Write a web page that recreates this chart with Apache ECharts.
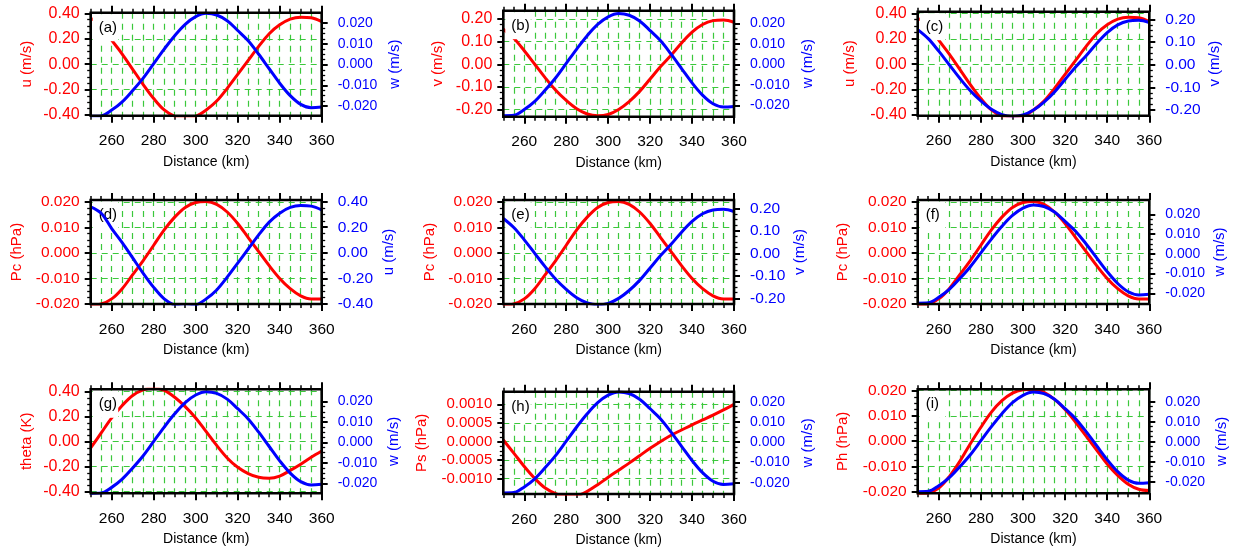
<!DOCTYPE html>
<html><head><meta charset="utf-8">
<script src="https://cdn.jsdelivr.net/npm/echarts@6/dist/echarts.min.js"></script>
<style>html,body{margin:0;padding:0;background:#fff}#c{width:1235px;height:550px}</style>
</head><body><div id="c"></div>
<script>
// ---------------- data ----------------
const distance = [250,255,260,265,270,275,280,285,290,295,300,305,310,315,320,325,330,335,340,345,350,355,360];
const u     = [0.36,0.31,0.19,0.08,-0.04,-0.16,-0.27,-0.36,-0.41,-0.425,-0.41,-0.36,-0.29,-0.19,-0.08,0.03,0.14,0.24,0.31,0.355,0.37,0.365,0.335];
const v     = [0.155,0.115,0.06,0.00,-0.06,-0.115,-0.16,-0.197,-0.22,-0.228,-0.222,-0.20,-0.165,-0.12,-0.065,-0.01,0.04,0.094,0.142,0.176,0.193,0.196,0.186];
const w     = [-0.0250,-0.0248,-0.0220,-0.0180,-0.0125,-0.0065,0.0005,0.0075,0.0140,0.0195,0.0232,0.0248,0.0240,0.0212,0.0165,0.0115,0.0050,-0.0020,-0.0090,-0.0150,-0.0192,-0.0208,-0.0205];
const pc    = [-0.0205,-0.0200,-0.0180,-0.0140,-0.0085,-0.0030,0.0030,0.0090,0.0140,0.0178,0.0197,0.0201,0.0190,0.0160,0.0115,0.0060,0.0005,-0.0050,-0.0100,-0.0140,-0.0168,-0.0180,-0.0180];
const theta = [-0.05,0.07,0.19,0.29,0.37,0.415,0.43,0.41,0.355,0.28,0.19,0.08,-0.03,-0.13,-0.205,-0.255,-0.285,-0.292,-0.275,-0.23,-0.18,-0.125,-0.075];
const ps    = [0.00004,-0.00031,-0.00067,-0.00099,-0.00125,-0.00140,-0.00148,-0.00146,-0.00134,-0.00116,-0.00096,-0.00077,-0.00058,-0.00038,-0.00018,0.00000,0.00017,0.00031,0.00045,0.00058,0.00071,0.00085,0.00100];
const ph    = [-0.0210,-0.0205,-0.0185,-0.0140,-0.0080,-0.0010,0.0055,0.0115,0.0160,0.0190,0.0203,0.0205,0.0193,0.0165,0.0125,0.0075,0.0020,-0.0035,-0.0090,-0.0135,-0.0170,-0.0190,-0.0195];

// tick labels
const xTicks     = [260,280,300,320,340,360];
const uTicks     = [-0.40,-0.20,0.00,0.20,0.40];
const vTicks     = [-0.20,-0.10,0.00,0.10,0.20];
const wTicks     = [-0.020,-0.010,0.000,0.010,0.020];
const pcTicks    = [-0.020,-0.010,0.000,0.010,0.020];
const thetaTicks = [-0.40,-0.20,0.00,0.20,0.40];
const psTicks    = [-0.0010,-0.0005,0.0000,0.0005,0.0010];
const phTicks    = [-0.020,-0.010,0.000,0.010,0.020];

const FONT = '"Liberation Sans", Arial, Helvetica, sans-serif';

const vars = {
  u:     {data:u,     ticks:uTicks,     dec:2, name:'u (m/s)',   fsL:16,   fsR:15.5},
  v:     {data:v,     ticks:vTicks,     dec:2, name:'v (m/s)',   fsL:16,   fsR:15.5},
  w:     {data:w,     ticks:wTicks,     dec:3, name:'w (m/s)',   fsL:15,   fsR:14},
  pc:    {data:pc,    ticks:pcTicks,    dec:3, name:'Pc (hPa)',  fsL:15.5, fsR:14},
  theta: {data:theta, ticks:thetaTicks, dec:2, name:'theta (K)', fsL:16,   fsR:15.5},
  ps:    {data:ps,    ticks:psTicks,    dec:4, name:'Ps (hPa)',  fsL:15,   fsR:13},
  ph:    {data:ph,    ticks:phTicks,    dec:3, name:'Ph (hPa)',  fsL:15.5, fsR:14}
};

// panels: tag, left var, right var, axis ranges
const panels = [
  {tag:'(a)', left:'u',     right:'w', lr:[-0.405,0.405],     rr:[-0.0247,0.0251]},
  {tag:'(b)', left:'v',     right:'w', lr:[-0.232,0.237],     rr:[-0.0255,0.0262]},
  {tag:'(c)', left:'u',     right:'v', lr:[-0.405,0.413],     rr:[-0.225,0.234]},
  {tag:'(d)', left:'pc',    right:'u', lr:[-0.0200,0.0207],   rr:[-0.400,0.413]},
  {tag:'(e)', left:'pc',    right:'v', lr:[-0.0200,0.0207],   rr:[-0.225,0.237]},
  {tag:'(f)', left:'pc',    right:'w', lr:[-0.0200,0.0207],   rr:[-0.0254,0.0273]},
  {tag:'(g)', left:'theta', right:'w', lr:[-0.413,0.419],     rr:[-0.0249,0.0260]},
  {tag:'(h)', left:'ps',    right:'w', lr:[-0.00141,0.00134], rr:[-0.0255,0.0249]},
  {tag:'(i)', left:'ph',    right:'w', lr:[-0.0206,0.0205],   rr:[-0.0258,0.0262]}
];

// ---------------- layout ----------------
const X_MIN = 250, X_MAX = 360;
const boxes = [
  [90.7,12.7,321.7,115.7],[503.3,10.7,734,116.7],[917.7,11.7,1149.3,115.7],
  [90.7,200,321.7,304],[503.3,200,734,304],[917.7,200,1149.3,304],
  [90.7,389.3,321.7,493.3],[503.3,391.7,734,494],[917.7,389.3,1149.3,493.3]
];
const leftNameOff  = [64,65,67.7,74,73,74.4,64,81.6,74.4];
const rightNameOff = [73,74,65.7,66.7,66,70.7,71.7,74,72.4];

const RED = '#ff0000', BLUE = '#0000ff', GREEN = '#3cc83c';
const NAME_FS = 15;

const fmt = dec => val => { if (Math.abs(val) < 1e-12) val = 0; return val.toFixed(dec); };

const grid = [], xAxis = [], yAxis = [], series = [], graphic = [];
const noLine = {show:false, onZero:false};

panels.forEach((P, i) => {
  const [L,T,R,B] = boxes[i];
  const W = R - L, H = B - T;
  const LV = vars[P.left], RV = vars[P.right];
  const yPix = (rng, val) => T + (rng[1] - val) / (rng[1] - rng[0]) * H;

  // main grid
  const gMain = grid.length;
  grid.push({left:L, top:T, width:W, height:H});
  const xMainIdx = xAxis.length;
  xAxis.push({
    gridIndex:gMain, type:'value', min:X_MIN, max:X_MAX, interval:5, position:'bottom',
    axisLine:noLine, axisLabel:{show:false},
    axisTick:{show:true, length:4, lineStyle:{color:'#000', width:1.5}},
    splitLine:{show:true, lineStyle:{color:GREEN, width:1.2, type:[6,5]}},
    name:'Distance (km)', nameLocation:'middle', nameGap:39,
    nameTextStyle:{color:'#000', fontSize:14, fontFamily:FONT}
  });
  xAxis.push({
    gridIndex:gMain, type:'value', min:X_MIN, max:X_MAX, interval:5, position:'top',
    axisLine:noLine, axisLabel:{show:false},
    axisTick:{show:true, length:4, lineStyle:{color:'#000', width:1.5}},
    splitLine:{show:false}
  });
  const yLIdx = yAxis.length;
  yAxis.push({
    gridIndex:gMain, type:'value', min:P.lr[0], max:P.lr[1], position:'left',
    axisLine:noLine, axisTick:{show:false}, axisLabel:{show:false}, splitLine:{show:false},
    name:LV.name, nameLocation:'middle', nameGap:leftNameOff[i] - NAME_FS/2,
    nameTextStyle:{color:RED, fontSize:NAME_FS, fontFamily:FONT}
  });
  const yRIdx = yAxis.length;
  yAxis.push({
    gridIndex:gMain, type:'value', min:P.rr[0], max:P.rr[1], position:'right',
    axisLine:noLine, axisTick:{show:false}, axisLabel:{show:false}, splitLine:{show:false},
    name:RV.name, nameLocation:'middle', nameGap:rightNameOff[i] - NAME_FS/2,
    nameTextStyle:{color:BLUE, fontSize:NAME_FS, fontFamily:FONT}
  });

  // x label grid (260..360)
  const gX = grid.length;
  const xl = L + (xTicks[0] - X_MIN) / (X_MAX - X_MIN) * W;
  const xr = L + (xTicks[xTicks.length-1] - X_MIN) / (X_MAX - X_MIN) * W;
  grid.push({left:xl, top:T, width:xr - xl, height:H});
  const xStep = xTicks[1] - xTicks[0];
  xAxis.push({
    gridIndex:gX, type:'value', min:xTicks[0], max:xTicks[xTicks.length-1], interval:xStep, position:'bottom',
    axisLine:noLine, splitLine:{show:false},
    axisTick:{show:true, length:7, lineStyle:{color:'#000', width:2}},
    axisLabel:{show:true, color:'#000', fontSize:15.5, fontFamily:FONT, margin:17.5}
  });
  xAxis.push({
    gridIndex:gX, type:'value', min:xTicks[0], max:xTicks[xTicks.length-1], interval:xStep, position:'top',
    axisLine:noLine, splitLine:{show:false}, axisLabel:{show:false},
    axisTick:{show:true, length:7, lineStyle:{color:'#000', width:2}}
  });
  yAxis.push({gridIndex:gX, type:'value', show:false, min:0, max:1, axisLine:noLine});

  // left label grid
  const lt = LV.ticks;
  const lTop = yPix(P.lr, lt[lt.length-1]), lBot = yPix(P.lr, lt[0]);
  const gL = grid.length;
  grid.push({left:L, top:lTop, width:W, height:lBot - lTop});
  xAxis.push({gridIndex:gL, type:'value', show:false, min:0, max:1, axisLine:noLine});
  yAxis.push({
    gridIndex:gL, type:'value', min:lt[0], max:lt[lt.length-1], interval:lt[1]-lt[0], position:'left',
    axisLine:noLine,
    axisTick:{show:true, length:6, lineStyle:{color:'#000', width:2}},
    minorTick:{show:true, splitNumber:4, length:3.5, lineStyle:{color:'#000', width:1.3}},
    axisLabel:{show:true, color:RED, fontSize:LV.fsL, fontFamily:FONT, margin:11, formatter:fmt(LV.dec)},
    splitLine:{show:true, lineStyle:{color:GREEN, width:1.2, type:[6,5]}}
  });

  // right label grid
  const rt = RV.ticks;
  const rTop = yPix(P.rr, rt[rt.length-1]), rBot = yPix(P.rr, rt[0]);
  const gR = grid.length;
  grid.push({left:L, top:rTop, width:W, height:rBot - rTop});
  xAxis.push({gridIndex:gR, type:'value', show:false, min:0, max:1, axisLine:noLine});
  yAxis.push({
    gridIndex:gR, type:'value', min:rt[0], max:rt[rt.length-1], interval:rt[1]-rt[0], position:'right',
    axisLine:noLine, splitLine:{show:false},
    axisTick:{show:true, length:6, lineStyle:{color:'#000', width:2}},
    minorTick:{show:true, splitNumber:4, length:3.5, lineStyle:{color:'#000', width:1.3}},
    axisLabel:{show:true, color:BLUE, fontSize:RV.fsR, fontFamily:FONT, margin:16, formatter:fmt(RV.dec)}
  });

  // series
  series.push({
    type:'line', xAxisIndex:xMainIdx, yAxisIndex:yLIdx, z:2,
    data:distance.map((d,k) => [d, LV.data[k]]),
    showSymbol:false, smooth:0.35, silent:true,
    lineStyle:{color:RED, width:3}
  });
  series.push({
    type:'line', xAxisIndex:xMainIdx, yAxisIndex:yRIdx, z:5,
    data:distance.map((d,k) => [d, RV.data[k]]),
    showSymbol:false, smooth:0.35, silent:true,
    lineStyle:{color:BLUE, width:3}
  });

  // panel tag with white box (covers red + grid, under blue)
  graphic.push({type:'rect', z:3, silent:true,
    shape:{x:L + 2, y:T + 1.5, width:25.5, height:27}, style:{fill:'#fff'}});
  graphic.push({type:'text', z:4, silent:true, x:L + 8, y:T + 15,
    style:{text:P.tag, fill:'#000', font:'15px ' + FONT, verticalAlign:'middle'}});
  // frame
  graphic.push({type:'rect', z:20, silent:true,
    shape:{x:L, y:T, width:W, height:H}, style:{fill:'none', stroke:'#000', lineWidth:2.6}});
});

const chart = echarts.init(document.getElementById('c'), null, {renderer:'canvas'});
chart.setOption({
  animation:false,
  backgroundColor:'#fff',
  textStyle:{fontFamily:FONT},
  grid, xAxis, yAxis, series, graphic
});
</script>
</body></html>
